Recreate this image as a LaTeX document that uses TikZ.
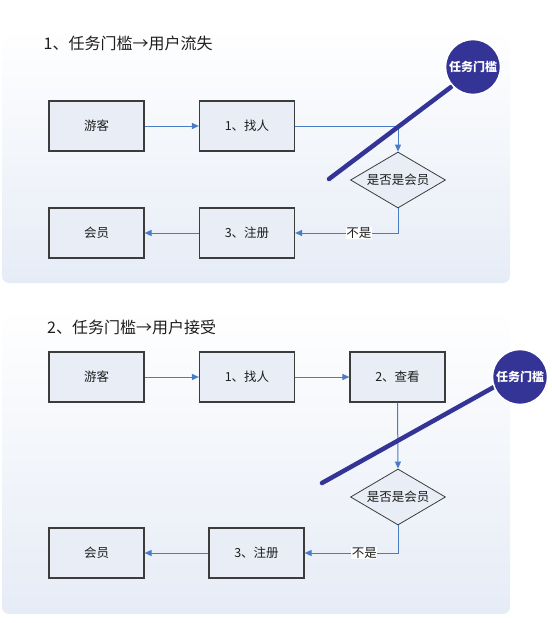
\documentclass[tikz,border=0pt]{standalone}
\usepackage{fontspec}
\setmainfont{Noto Sans CJK SC}
\usetikzlibrary{shapes.geometric,arrows.meta}
\definecolor{panelbot}{RGB}{230,236,246}
\definecolor{boxfill}{RGB}{232,237,246}
\definecolor{boxline}{RGB}{60,60,60}
\definecolor{arrowblue}{RGB}{74,124,198}
\definecolor{gatecol}{RGB}{52,52,150}
\definecolor{textcol}{RGB}{30,30,30}
\tikzset{
  stepbox/.style={draw=boxline, fill=boxfill, line width=1.2pt, minimum width=95pt, minimum height=50pt, inner sep=0pt, font=\fontsize{12.5}{14}\selectfont, text=textcol},
  decide/.style={shape=diamond, aspect=1.7, draw=boxline, fill=boxfill, line width=0.8pt, minimum width=95pt, minimum height=56pt, inner sep=0pt, font=\fontsize{12.5}{14}\selectfont, text=textcol},
  flow/.style={draw=arrowblue, line width=1pt, -{Triangle[length=7pt,width=6pt]}},
  gate/.style={circle, fill=gatecol, draw=white, line width=1.5pt, minimum size=55pt, inner sep=0pt, text=white, font=\bfseries\fontsize{12}{14}\selectfont},
  gateline/.style={draw=gatecol, line width=4.5pt, line cap=round},
  lbl/.style={fill=white, inner sep=0.5pt, font=\fontsize{12.5}{14}\selectfont, text=textcol},
  ttl/.style={anchor=west, font=\fontsize{16}{19}\selectfont, text=textcol, inner sep=0pt},
  panel/.style={top color=white, bottom color=panelbot, rounded corners=7pt}
}
\begin{document}
\begin{tikzpicture}[x=1pt,y=-1pt]
\useasboundingbox (0,0) rectangle (551,623);
% panels
\shade[panel] (2,27) rectangle (510,283);
\shade[panel] (2,305) rectangle (510,614);

% ---------- panel 1 ----------
\node[ttl] (t1) at (43.5,43) {1、任务门槛→用户流失};
\node[stepbox] (g1) at (96.5,126) {游客};
\node[stepbox] (f1) at (247,126) {1、找人};
\node[decide] (d1) at (398,180) {是否是会员};
\node[stepbox] (m1) at (96.5,233) {会员};
\node[stepbox] (r1) at (247,233) {3、注册};
\draw[flow] (g1.east) -- (f1.west);
\draw[flow] (f1.east) -| (d1.north);
\draw[flow] (d1.south) |- node[lbl, pos=0.69] {不是} (r1.east);
\draw[flow] (r1.west) -- (m1.east);
\coordinate (a1) at (329,179);
\coordinate (b1) at (451,87);
\draw[gateline] (a1) -- (b1);
\node[gate] (c1) at (473,67) {任务门槛};

% ---------- panel 2 ----------
\node[ttl] (t2) at (47,327) {2、任务门槛→用户接受};
\node[stepbox] (g2) at (96.5,377) {游客};
\node[stepbox] (f2) at (247,377) {1、找人};
\node[stepbox] (k2) at (397.5,377) {2、查看};
\node[decide] (d2) at (398,497) {是否是会员};
\node[stepbox] (m2) at (96.5,553) {会员};
\node[stepbox] (r2) at (256.5,553) {3、注册};
\draw[flow] (g2.east) -- (f2.west);
\draw[flow] (f2.east) -- (k2.west);
\draw[flow] (k2.south) -- (d2.north);
\draw[flow] (d2.south) |- node[lbl, pos=0.68] {不是} (r2.east);
\draw[flow] (r2.west) -- (m2.east);
\coordinate (a2) at (322,483);
\coordinate (b2) at (494,387);
\draw[gateline] (a2) -- (b2);
\node[gate] (c2) at (520,377) {任务门槛};
\end{tikzpicture}
\end{document}
